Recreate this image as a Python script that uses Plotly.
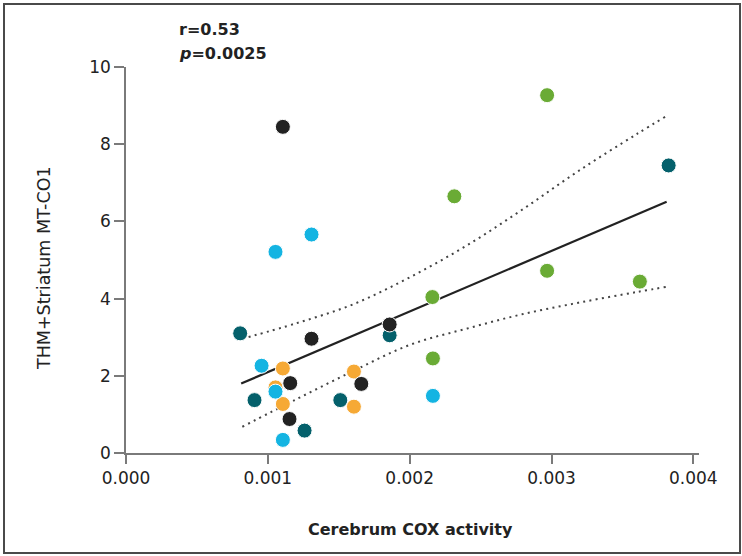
import plotly.graph_objects as go

# ---- data ----
black_x = [0.001106, 0.001308, 0.001859, 0.001158, 0.001659, 0.001153]
black_y = [8.45, 2.96, 3.33, 1.81, 1.79, 0.88]

cyan_x = [0.001054, 0.001308, 0.000956, 0.001054, 0.002164, 0.001106]
cyan_y = [5.21, 5.66, 2.26, 1.59, 1.48, 0.34]

teal_x = [0.000805, 0.003826, 0.001859, 0.000906, 0.001511, 0.001259]
teal_y = [3.10, 7.45, 3.05, 1.37, 1.37, 0.58]

orange_x = [0.001106, 0.001054, 0.001106, 0.001607, 0.001607]
orange_y = [2.19, 1.70, 1.27, 2.11, 1.20]

green_x = [0.002969, 0.002315, 0.002969, 0.003623, 0.002160, 0.002164]
green_y = [9.27, 6.65, 4.72, 4.44, 4.04, 2.45]

fit_x = [0.000812, 0.003812]
fit_y = [1.80, 6.51]

ci_x = [0.00082, 0.00120, 0.00160, 0.00200, 0.00240, 0.00280, 0.00320, 0.00360, 0.00382]
ci_upper = [2.96, 3.36, 3.85, 4.55, 5.37, 6.32, 7.33, 8.26, 8.75]
ci_lower = [0.68, 1.39, 2.12, 2.80, 3.22, 3.60, 3.90, 4.17, 4.31]

x_ticks = [0.000, 0.001, 0.002, 0.003, 0.004]
x_tick_labels = ["0.000", "0.001", "0.002", "0.003", "0.004"]
y_ticks = [0, 2, 4, 6, 8, 10]
y_tick_labels = ["0", "2", "4", "6", "8", "10"]

stats_r = "r=0.53"
stats_p = "<i>p</i>=0.0025"
x_title = "Cerebrum COX activity"
y_title = "THM+Striatum MT-CO1"

# ---- figure ----
W, H = 742, 556
ML, MR, MT, MB = 126, 43, 67, 103
PW, PH = W - ML - MR, H - MT - MB


def px_x(p):
    return (p - ML) / PW


def px_y(p):
    return (H - MB - p) / PH


FONT = "DejaVu Sans"
INK = "#222222"
fig = go.Figure()

dot_style = dict(color="#444444", width=2, dash="2px,4.3px", shape="spline")
fig.add_trace(go.Scatter(x=ci_x, y=ci_upper, mode="lines", line=dot_style, hoverinfo="skip"))
fig.add_trace(go.Scatter(x=ci_x, y=ci_lower, mode="lines", line=dot_style, hoverinfo="skip"))
fig.add_trace(go.Scatter(x=fit_x, y=fit_y, mode="lines",
                         line=dict(color=INK, width=2.2), hoverinfo="skip"))

groups = [
    (teal_x, teal_y, "#04606b"),
    (orange_x, orange_y, "#f6a935"),
    (cyan_x, cyan_y, "#14b4e2"),
    (black_x, black_y, "#222222"),
    (green_x, green_y, "#6aab35"),
]
for gx, gy, col in groups:
    fig.add_trace(go.Scatter(
        x=gx, y=gy, mode="markers",
        marker=dict(size=15, color=col, line=dict(color="white", width=1)),
    ))

axis_common = dict(
    showline=True, linecolor="#7a7a7a", linewidth=1.5,
    ticks="outside", tickcolor="#7a7a7a", tickwidth=1.5,
    showgrid=False, zeroline=False,
    tickfont=dict(family=FONT, size=17, color=INK),
)
fig.update_xaxes(range=[0, 0.00404], tickvals=x_ticks, ticktext=x_tick_labels,
                 ticklen=9, **axis_common)
fig.update_yaxes(range=[0, 10], tickvals=y_ticks, ticktext=y_tick_labels,
                 ticklen=10, **axis_common)

annotations = [
    dict(text=stats_r, x=px_x(177), y=px_y(29), xanchor="left", yanchor="middle",
         font=dict(family=FONT, size=16, color=INK, weight="bold")),
    dict(text=stats_p, x=px_x(177), y=px_y(53), xanchor="left", yanchor="middle",
         font=dict(family=FONT, size=16, color=INK, weight="bold")),
    dict(text=x_title, x=px_x(410), y=px_y(529), xanchor="center", yanchor="middle",
         font=dict(family=FONT, size=16, color=INK, weight="bold")),
    dict(text=y_title, x=px_x(44), y=px_y(268), xanchor="center", yanchor="middle",
         textangle=-90, font=dict(family=FONT, size=17.5, color=INK)),
]
for a in annotations:
    a.update(xref="paper", yref="paper", showarrow=False)

fig.update_layout(
    width=W, height=H,
    margin=dict(l=ML, r=MR, t=MT, b=MB),
    plot_bgcolor="white", paper_bgcolor="white",
    showlegend=False,
    annotations=annotations,
    shapes=[dict(type="rect", xref="paper", yref="paper",
                 x0=px_x(4), x1=px_x(740), y0=px_y(553), y1=px_y(4),
                 line=dict(color="#4a4a4a", width=2), layer="below")],
)

fig.write_html(
    "out.html",
    config={"displayModeBar": False},
    post_script="document.body.style.margin='0';document.body.style.overflow='hidden';",
)
